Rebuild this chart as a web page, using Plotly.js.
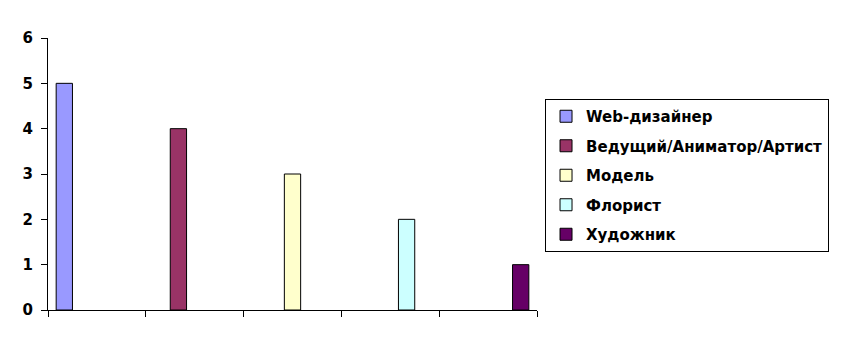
<!DOCTYPE html>
<html>
<head>
<meta charset="utf-8">
<script src="https://cdn.plot.ly/plotly-3.0.1.min.js"></script>
<style>html,body{margin:0;padding:0;background:#fff;}#chart{width:842px;height:353px;}</style>
</head>
<body>
<div id="chart"></div>
<script>
// Data
const categories = [0.5, 1.5, 2.5, 3.5, 4.5];
const seriesNames = ["Web-дизайнер", "Ведущий/Аниматор/Артист", "Модель", "Флорист", "Художник"];
const seriesValues = [
  [5, null, null, null, null],
  [null, 4, null, null, null],
  [null, null, 3, null, null],
  [null, null, null, 2, null],
  [null, null, null, null, 1]
];
const seriesColors = ["#9999FF", "#993366", "#FFFFCC", "#CCFFFF", "#660066"];
const yTicks = [0, 1, 2, 3, 4, 5, 6];
const xBoundaries = [0, 1, 2, 3, 4, 5];

const traces = seriesNames.map((name, i) => ({
  type: "bar",
  name: name,
  x: categories,
  y: seriesValues[i],
  legendgroup: "g" + i,
  marker: {color: seriesColors[i], line: {color: "#000", width: 1}},
  hoverinfo: "skip"
}));

const layout = {
  width: 842, height: 353,
  margin: {l: 48, r: 305, t: 38, b: 43, pad: 0},
  paper_bgcolor: "#fff", plot_bgcolor: "#fff",
  font: {family: "DejaVu Sans, Liberation Sans, Arial, sans-serif", size: 15, color: "#000", weight: "bold"},
  barmode: "group",
  bargap: 0.167,
  bargroupgap: 0,
  showlegend: true,
  legend: {
    x: 1.0164, xanchor: "left", y: 0.7757, yanchor: "top",
    bordercolor: "#000", borderwidth: 1, bgcolor: "#fff",
    font: {size: 15, weight: "bold"},
    tracegroupgap: 7
  },
  xaxis: {
    range: [0, 5], tickmode: "array", tickvals: xBoundaries,
    showticklabels: false, ticks: "outside", ticklen: 6, tickcolor: "#000",
    showline: true, linecolor: "#000", linewidth: 1,
    showgrid: false, zeroline: false, fixedrange: true
  },
  yaxis: {
    range: [0, 6], tickmode: "array", tickvals: yTicks,
    ticks: "outside", ticklen: 6, tickcolor: "#000",
    tickfont: {size: 15, weight: "bold"},
    ticklabelstandoff: 5,
    showline: true, linecolor: "#000", linewidth: 1,
    showgrid: false, zeroline: false, fixedrange: true
  }
};

Plotly.newPlot("chart", traces, layout, {staticPlot: true, displayModeBar: false});
</script>
</body>
</html>
